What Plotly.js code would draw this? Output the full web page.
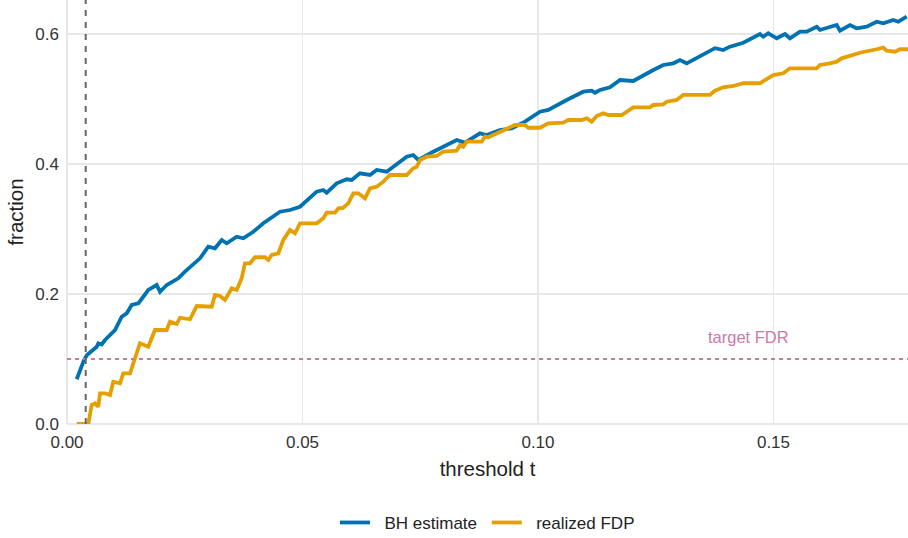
<!DOCTYPE html>
<html>
<head>
<meta charset="utf-8">
<script src="https://cdn.plot.ly/plotly-3.0.1.min.js"></script>
<style>html,body{margin:0;padding:0;background:#fff;}#chart{width:908px;height:538px;}</style>
</head>
<body>
<div id="chart"></div>
<script>
// BH estimate of FDR as a function of threshold t
const bhT = [0.00206,0.00276,0.00361,0.00425,0.00488,0.00558,0.00631,0.00665,0.00737,0.00807,0.00913,0.01019,0.01161,0.01268,0.01374,0.01514,0.0162,0.01726,0.01904,0.01975,0.02117,0.02363,0.02505,0.02754,0.02824,0.03,0.03142,0.03285,0.03391,0.03603,0.03743,0.03955,0.04168,0.04522,0.04735,0.04947,0.05301,0.05442,0.05514,0.05726,0.05938,0.06045,0.06221,0.06433,0.06575,0.06788,0.07212,0.07352,0.07459,0.07777,0.07989,0.08274,0.0845,0.08769,0.08911,0.09193,0.09442,0.09724,0.10042,0.10219,0.10609,0.10962,0.1114,0.1121,0.11316,0.11529,0.11741,0.12023,0.12448,0.1266,0.12873,0.13015,0.13157,0.13652,0.13758,0.13934,0.14076,0.14359,0.14713,0.14783,0.14889,0.15068,0.15244,0.1535,0.15563,0.15705,0.15917,0.15987,0.162,0.16342,0.16412,0.16624,0.16766,0.16979,0.17191,0.17331,0.17544,0.1765,0.17828];
const bhY = [0.0688,0.0831,0.0985,0.1062,0.1097,0.1138,0.1189,0.1242,0.1223,0.1292,0.1369,0.1446,0.1651,0.1703,0.1831,0.1857,0.1958,0.2062,0.2138,0.2035,0.2138,0.2242,0.2343,0.2497,0.2549,0.2728,0.2703,0.2831,0.278,0.2882,0.2857,0.2958,0.3088,0.3266,0.3292,0.3343,0.3574,0.36,0.3558,0.3703,0.3765,0.3754,0.3857,0.3831,0.3908,0.3882,0.4112,0.4138,0.4062,0.4189,0.4266,0.4369,0.4328,0.4472,0.4446,0.4523,0.4549,0.4651,0.4805,0.4831,0.4985,0.5112,0.5128,0.5097,0.5138,0.518,0.5292,0.5277,0.5446,0.5523,0.5549,0.56,0.5549,0.5754,0.5782,0.5754,0.5805,0.5866,0.6,0.5958,0.6011,0.5934,0.6,0.5934,0.6035,0.6035,0.6112,0.6062,0.6112,0.6138,0.6051,0.6138,0.6088,0.6112,0.6189,0.6165,0.6215,0.6189,0.6266];

// realized false discovery proportion
const fdpT = [0.00206,0.00452,0.00524,0.00594,0.00665,0.00701,0.00807,0.00913,0.00983,0.01125,0.01195,0.01338,0.0155,0.0162,0.01726,0.01868,0.02117,0.02187,0.02329,0.02399,0.02611,0.02754,0.03072,0.03142,0.03248,0.03355,0.03497,0.03603,0.03709,0.03779,0.03885,0.03992,0.04204,0.04274,0.04346,0.04486,0.04592,0.04735,0.04841,0.04947,0.05301,0.05442,0.05514,0.0569,0.0576,0.0586,0.05972,0.06079,0.06185,0.06327,0.06433,0.06575,0.06716,0.06858,0.07212,0.07352,0.07425,0.07495,0.07637,0.07849,0.07989,0.08274,0.08344,0.08414,0.08486,0.08805,0.08875,0.08945,0.09193,0.09406,0.09512,0.09724,0.09794,0.10042,0.10113,0.10219,0.10537,0.10643,0.10928,0.11034,0.1114,0.11246,0.11386,0.11493,0.11777,0.11883,0.12023,0.12378,0.12448,0.1266,0.12732,0.12945,0.13085,0.13652,0.13758,0.13934,0.14146,0.14359,0.14713,0.1482,0.14996,0.15208,0.1535,0.15917,0.15987,0.162,0.16342,0.16448,0.16694,0.16837,0.17191,0.17331,0.17403,0.1758,0.17686,0.17856];
const fdpY = [0,0,0.0292,0.0318,0.0266,0.0472,0.0472,0.0446,0.0651,0.0626,0.078,0.078,0.1242,0.1215,0.1189,0.1446,0.1446,0.1574,0.1538,0.1635,0.1611,0.1815,0.1805,0.1985,0.1969,0.1908,0.2088,0.2062,0.2242,0.2472,0.2472,0.2565,0.2565,0.2523,0.26,0.2626,0.2831,0.2985,0.2934,0.3088,0.3088,0.3165,0.3251,0.3251,0.3318,0.3323,0.3395,0.3549,0.3549,0.3472,0.3626,0.3651,0.3728,0.3831,0.3831,0.3934,0.3958,0.4062,0.4112,0.4123,0.4189,0.4205,0.4292,0.4266,0.4343,0.4343,0.442,0.4411,0.4497,0.4574,0.46,0.46,0.4558,0.4558,0.4585,0.4626,0.4635,0.4677,0.4677,0.4703,0.4651,0.4738,0.478,0.4754,0.4754,0.4805,0.4872,0.4872,0.4908,0.4918,0.4958,0.4985,0.5062,0.5062,0.5128,0.518,0.52,0.5242,0.5242,0.5292,0.5369,0.5395,0.5472,0.5472,0.5523,0.5549,0.5574,0.5626,0.5677,0.5712,0.5765,0.579,0.5743,0.5728,0.5765,0.5765];

const seriesNames = ["BH estimate", "realized FDP"];
const targetFDR = 0.1;
const chosenT = 0.00397;
const annotText = "target FDR";
const annotPos = [0.1447, 0.134];
const xTickVals = [0, 0.05, 0.10, 0.15];
const xTickText = ["0.00", "0.05", "0.10", "0.15"];
const yTickVals = [0, 0.2, 0.4, 0.6];
const yTickText = ["0.0", "0.2", "0.4", "0.6"];
const xRange = [0, 0.17856];
const yRange = [0, 0.6523];

const FONT = '"Liberation Sans", Arial, Helvetica, sans-serif';
const GRID = '#e8e8e8';
const PAD = '\u00a0\u00a0';

const traces = [
  {x: bhT, y: bhY, type: 'scatter', mode: 'lines', name: PAD + seriesNames[0] + '\u00a0',
   line: {color: '#0072B2', width: 3.8}},
  {x: fdpT, y: fdpY, type: 'scatter', mode: 'lines', name: PAD + seriesNames[1],
   line: {color: '#E69F00', width: 3.8}}
];

const layout = {
  width: 908, height: 538,
  margin: {l: 67, r: 0, t: 0, b: 114, autoexpand: false},
  paper_bgcolor: '#fff', plot_bgcolor: '#fff',
  font: {family: FONT, color: '#222'},
  showlegend: true,
  legend: {orientation: 'h', x: 0.5, xanchor: 'center', yref: 'container', y: 0.028, yanchor: 'middle',
           font: {size: 17, color: '#222'}, traceorder: 'normal', itemwidth: 30},
  xaxis: {range: xRange, tickvals: xTickVals, ticktext: xTickText, ticks: '', automargin: false,
          showgrid: true, gridcolor: GRID, gridwidth: 1.2, zeroline: true, zerolinecolor: GRID, zerolinewidth: 1.2,
          showline: false, tickfont: {size: 17, color: '#333'}, ticklabelstandoff: 6,
          title: {text: 'threshold t', font: {size: 20.5, color: '#222'}, standoff: 10}, fixedrange: true},
  yaxis: {range: yRange, tickvals: yTickVals, ticktext: yTickText, ticks: '', automargin: false,
          showgrid: true, gridcolor: GRID, gridwidth: 1.2, zeroline: true, zerolinecolor: GRID, zerolinewidth: 1.2,
          showline: false, tickfont: {size: 17, color: '#333'}, ticklabelstandoff: 7,
          title: {text: 'fraction', font: {size: 20.5, color: '#222'}, standoff: 6}, fixedrange: true},
  shapes: [
    {type: 'line', xref: 'x', yref: 'y', x0: xRange[0], x1: xRange[1], y0: targetFDR, y1: targetFDR,
     line: {color: '#CC79A7', width: 1.8, dash: '4px,4px'}},
    {type: 'line', xref: 'x', yref: 'paper', x0: chosenT, x1: chosenT, y0: 0, y1: 1,
     line: {color: '#666666', width: 2, dash: '6px,6px'}}
  ],
  annotations: [
    {x: annotPos[0], y: annotPos[1], xref: 'x', yref: 'y', text: annotText, showarrow: false,
     font: {size: 16.5, color: '#CC79A7', family: FONT}}
  ]
};

Plotly.newPlot('chart', traces, layout, {displayModeBar: false, staticPlot: true});
</script>
</body>
</html>
